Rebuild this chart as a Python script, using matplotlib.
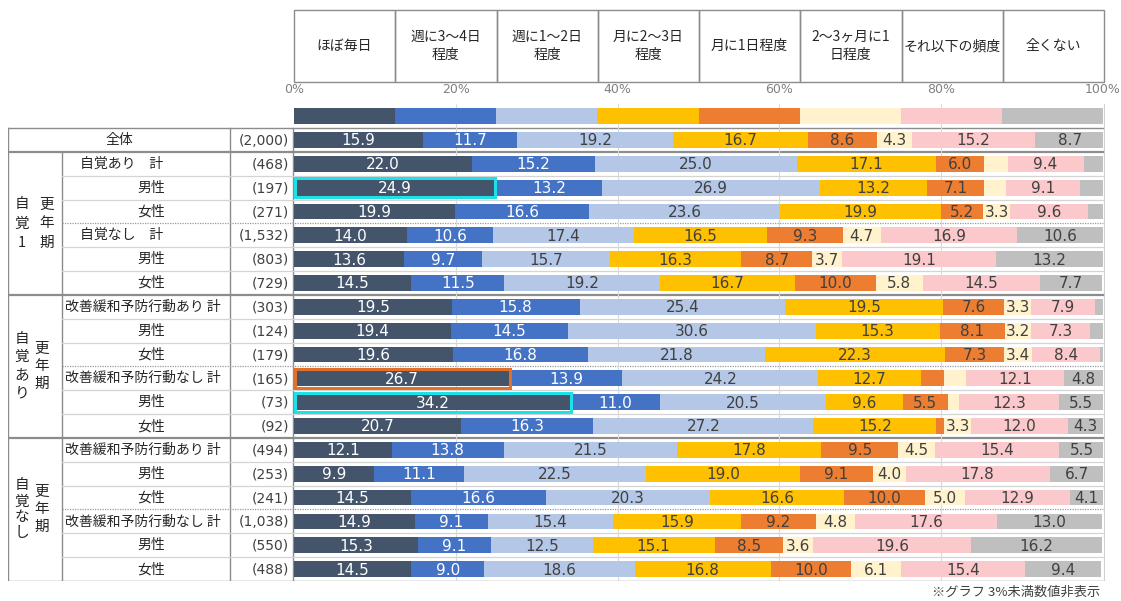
import matplotlib
matplotlib.use("Agg")
import matplotlib.pyplot as plt
from matplotlib.patches import Rectangle
import numpy as np

W, H = 1121, 601
JP = ["Noto Sans CJK JP", "DejaVu Sans"]
NUM = ["DejaVu Sans", "Noto Sans CJK JP"]

# ---- data -------------------------------------------------------------
categories = ["ほぼ毎日", "週に3～4日\n程度", "週に1～2日\n程度", "月に2～3日\n程度",
              "月に1日程度", "2～3ヶ月に1\n日程度", "それ以下の頻度", "全くない"]
colors = ["#44546A", "#4472C4", "#B4C7E7", "#FFC000",
          "#ED7D31", "#FFF2CC", "#FBC8CB", "#BFBFBF"]
text_colors = ["white", "white", "#404040", "#404040",
               "#404040", "#404040", "#404040", "#404040"]

row_labels = ["全体",
              "自覚あり　計", "男性", "女性", "自覚なし　計", "男性", "女性",
              "改善緩和予防行動あり 計", "男性", "女性", "改善緩和予防行動なし 計", "男性", "女性",
              "改善緩和予防行動あり 計", "男性", "女性", "改善緩和予防行動なし 計", "男性", "女性"]
sample_sizes = ["(2,000)",
                "(468)", "(197)", "(271)", "(1,532)", "(803)", "(729)",
                "(303)", "(124)", "(179)", "(165)", "(73)", "(92)",
                "(494)", "(253)", "(241)", "(1,038)", "(550)", "(488)"]

daily = [15.9, 22.0, 24.9, 19.9, 14.0, 13.6, 14.5, 19.5, 19.4, 19.6, 26.7, 34.2, 20.7,
         12.1, 9.9, 14.5, 14.9, 15.3, 14.5]
weekly_3_4 = [11.7, 15.2, 13.2, 16.6, 10.6, 9.7, 11.5, 15.8, 14.5, 16.8, 13.9, 11.0, 16.3,
              13.8, 11.1, 16.6, 9.1, 9.1, 9.0]
weekly_1_2 = [19.2, 25.0, 26.9, 23.6, 17.4, 15.7, 19.2, 25.4, 30.6, 21.8, 24.2, 20.5, 27.2,
              21.5, 22.5, 20.3, 15.4, 12.5, 18.6]
monthly_2_3 = [16.7, 17.1, 13.2, 19.9, 16.5, 16.3, 16.7, 19.5, 15.3, 22.3, 12.7, 9.6, 15.2,
               17.8, 19.0, 16.6, 15.9, 15.1, 16.8]
monthly_1 = [8.6, 6.0, 7.1, 5.2, 9.3, 8.7, 10.0, 7.6, 8.1, 7.3, 2.9, 5.5, 1.0,
             9.5, 9.1, 10.0, 9.2, 8.5, 10.0]
quarterly = [4.3, 2.9, 2.7, 3.3, 4.7, 3.7, 5.8, 3.3, 3.2, 3.4, 2.7, 1.4, 3.3,
             4.5, 4.0, 5.0, 4.8, 3.6, 6.1]
less_often = [15.2, 9.4, 9.1, 9.6, 16.9, 19.1, 14.5, 7.9, 7.3, 8.4, 12.1, 12.3, 12.0,
              15.4, 17.8, 12.9, 17.6, 19.6, 15.4]
never = [8.7, 2.4, 2.9, 1.9, 10.6, 13.2, 7.7, 1.0, 1.6, 0.5, 4.8, 5.5, 4.3,
         5.5, 6.7, 4.1, 13.0, 16.2, 9.4]

series = [daily, weekly_3_4, weekly_1_2, monthly_2_3, monthly_1, quarterly, less_often, never]

# bars whose first segment is framed: (row, colour)
highlights = [(2, "#1FE0E6"), (10, "#E0702A"), (11, "#1FE0E6")]

# sub-group / group boundaries
major_breaks = [0.5, 6.5, 12.5]
minor_breaks = [3.5, 9.5, 15.5]

group_labels = [
    # (rows, left column chars, right column chars, x_left, x_right, step_left, step_right)
    ((1, 6), "自覚1", "更年期", 22, 47, 19.5, 19.0),
    ((7, 12), "自覚あり", "更年期", 22, 42, 18.3, 17.5),
    ((13, 18), "自覚なし", "更年期", 22, 42, 16.0, 17.5),
]
ticks = [0, 20, 40, 60, 80, 100]
footnote = "※グラフ 3%未満数値非表示"

# ---- layout -----------------------------------------------------------
n_rows = len(row_labels)
y_bot_px, row_px = 581.0, 23.84
y_top_px = y_bot_px - (n_rows + 1) * row_px
x0_px, x1_px = 294.0, 1103.0
tbl_left = 8.0

fig = plt.figure(figsize=(W / 100, H / 100), dpi=100)
fig.patch.set_facecolor("white")

# background axes sharing the row scale, x in pixels: table, separators
bg = fig.add_axes([tbl_left / W, 1 - y_bot_px / H, (x1_px + 2 - tbl_left) / W,
                   (y_bot_px - y_top_px) / H], zorder=0)
bg.set_xlim(tbl_left, x1_px + 2)
bg.set_ylim(n_rows - 0.5, -1.5)
bg.axis("off")

# bar axes
ax = fig.add_axes([x0_px / W, 1 - y_bot_px / H, (x1_px - x0_px) / W,
                   (y_bot_px - y_top_px) / H], zorder=1)
ax.set_xlim(0, 100)
ax.set_ylim(n_rows - 0.5, -1.5)
ax.patch.set_alpha(0)
for s in ax.spines.values():
    s.set_visible(False)
ax.xaxis.tick_top()
ax.set_xticks(ticks)
ax.set_xticklabels([f"{t}%" for t in ticks], fontsize=9, color="#808080", family=NUM)
ax.tick_params(axis="x", length=0, pad=6)
ax.set_yticks([])

# vertical gridlines
ax.vlines(ticks[1:-1], -1.5, n_rows - 0.5, color="#D9D9D9", lw=0.8, zorder=0)

# colour key row
key_w = 100 / len(categories)
ax.barh([-1] * len(categories), [key_w] * len(categories),
        left=np.arange(len(categories)) * key_w, color=colors, height=0.64, zorder=2)

# stacked bars
rows = np.arange(n_rows)
left = np.zeros(n_rows)
for vals, col, tcol in zip(series, colors, text_colors):
    vals = np.asarray(vals)
    ax.barh(rows, vals, left=left, color=col, height=0.66, zorder=2)
    for r, (v, l) in enumerate(zip(vals, left)):
        if v >= 3:
            ax.text(l + v / 2, r + 0.04, f"{v:.1f}", ha="center", va="center",
                    fontsize=11, color=tcol, family=NUM, zorder=3)
    left += vals

for r, ec in highlights:
    ax.add_patch(Rectangle((0.15, r - 0.4), daily[r] - 0.15, 0.8, fill=False,
                           ec=ec, lw=2.2, zorder=4))

# ---- table ------------------------------------------------------------
line_c = "#8C8C8C"
# outer frame
bg.plot([tbl_left, x1_px], [-0.5, -0.5], color=line_c, lw=1.0)
bg.plot([tbl_left, x1_px], [n_rows - 0.5] * 2, color=line_c, lw=1.0)
bg.plot([tbl_left, tbl_left], [-0.5, n_rows - 0.5], color=line_c, lw=1.0)
bg.plot([230, 230], [-0.5, n_rows - 0.5], color=line_c, lw=1.0)
bg.plot([292.5, 292.5], [-0.5, n_rows - 0.5], color=line_c, lw=1.0)
bg.plot([62, 62], [0.5, n_rows - 0.5], color=line_c, lw=1.0)
bg.plot([x1_px + 1, x1_px + 1], [-1.5, n_rows - 0.5], color="#D0D0D0", lw=0.8)

for b in range(n_rows - 1):
    y = b + 0.5
    if y in major_breaks:
        bg.plot([tbl_left, x1_px], [y, y], color=line_c, lw=1.6)
    elif y in minor_breaks:
        bg.plot([62, x1_px], [y, y], color="#9A9A9A", lw=0.9, ls=(0, (1, 1)))
    else:
        bg.plot([62, x1_px], [y, y], color="#D4D4D4", lw=0.9)

for r, (lab, n) in enumerate(zip(row_labels, sample_sizes)):
    if r == 0:
        bg.text(119, r, lab, ha="center", va="center", fontsize=10, family=JP, color="#262626")
    elif lab in ("男性", "女性"):
        bg.text(151, r, lab, ha="center", va="center", fontsize=10, family=JP, color="#262626")
    elif lab.startswith("自覚"):
        bg.text(80, r, lab, ha="left", va="center", fontsize=10, family=JP, color="#262626")
    else:
        bg.text(65, r, lab, ha="left", va="center", fontsize=10, family=JP, color="#262626")
    bg.text(289, r + 0.03, n, ha="right", va="center", fontsize=10, family=NUM, color="#404040")

for (r0, r1), lchars, rchars, xl, xr, sl, sr in group_labels:
    yc = (r0 + r1) / 2
    for chars, x, step in ((lchars, xl, sl), (rchars, xr, sr)):
        k = len(chars)
        for i, ch in enumerate(chars):
            bg.text(x, yc + (i - (k - 1) / 2) * step / row_px, ch, ha="center", va="center",
                    fontsize=10.5, family=JP, color="#262626")

# ---- header -----------------------------------------------------------
hd = fig.add_axes([x0_px / W, 1 - 82 / H, (x1_px + 1 - x0_px) / W, 72 / H], zorder=1)
hd.set_xlim(0, 100)
hd.set_ylim(0, 1)
hd.axis("off")
for i, cat in enumerate(categories):
    hd.add_patch(Rectangle((i * key_w, 0), key_w, 1, fill=False, ec="#8C8C8C", lw=1.0,
                           clip_on=False))
    hd.text((i + 0.5) * key_w, 0.5, cat, ha="center", va="center", fontsize=10,
            family=JP, color="#262626", linespacing=1.35)

fig.text(1100 / W, 1 - 592 / H, footnote, ha="right", va="center", fontsize=9.5,
         family=JP, color="#404040")

fig.savefig("out.png", dpi=100)
